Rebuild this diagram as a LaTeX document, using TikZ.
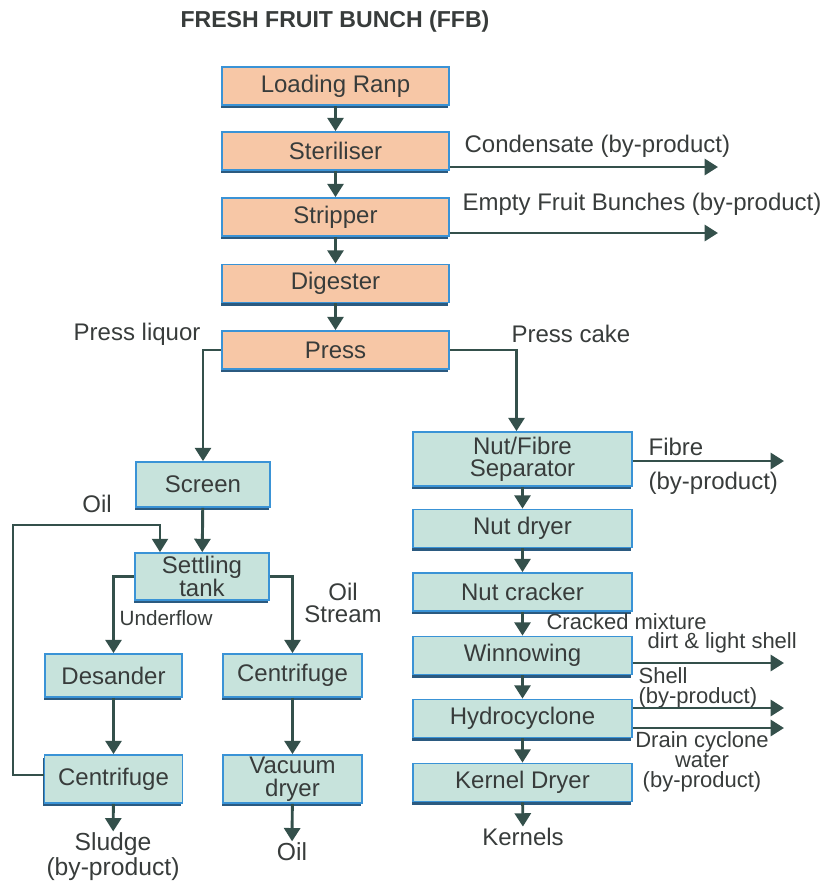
\documentclass[tikz,border=0pt]{standalone}
\usepackage{fontspec}
\setmainfont{Liberation Sans}
\usetikzlibrary{arrows.meta,shadows,calc}
\definecolor{peach}{HTML}{F7C7A6}
\definecolor{mint}{HTML}{C7E3DC}
\definecolor{edgeblue}{HTML}{3A93D6}
\definecolor{shadeblue}{HTML}{2B5A80}
\definecolor{flowgreen}{HTML}{34504B}
\definecolor{ink}{HTML}{383C3B}

\begin{document}
\begin{tikzpicture}[x=0.75pt,y=-0.75pt,
  stage/.style={draw=edgeblue, line width=1.3pt, align=center, text=ink,
    font=\fontsize{18}{15.5}\selectfont, inner sep=0pt,
    drop shadow={shadow xshift=-1pt, shadow yshift=-2.4pt, fill=shadeblue, opacity=1}},
  hot/.style={stage, fill=peach, minimum width=170.25pt, minimum height=28.5pt},
  cool/.style={stage, fill=mint},
  rightbox/.style={cool, minimum width=164.25pt, minimum height=28.5pt},
  tag/.style={text=ink, inner sep=1pt, font=\fontsize{18}{16}\selectfont},
  smalltag/.style={text=ink, inner sep=1pt, font=\fontsize{16.5}{15}\selectfont},
  flow/.style={draw=flowgreen, line width=2.2pt, -{Triangle[width=12pt,length=10pt]}},
  loopline/.style={flow, line width=1.6pt}]

\useasboundingbox (0,0) rectangle (825,883);

% heading
\node[text=ink, font=\bfseries\fontsize{17.3}{20}\selectfont] (ffb) at (335,22) {FRESH FRUIT BUNCH (FFB)};

% reception and pressing line
\node[hot] (load)  at (335.5,86)    {Loading Ranp};
\node[hot] (ster)  at (335.5,151)   {Steriliser};
\node[hot] (strip) at (335.5,217)   {Stripper};
\node[hot] (dig)   at (335.5,283.5) {Digester};
\node[hot] (press) at (335.5,350)   {Press};

% kernel recovery line
\node[rightbox, minimum height=40.5pt, font=\fontsize{18}{16.5}\selectfont] (nfs) at (522.5,459) {Nut/Fibre\\Separator};
\node[rightbox] (nd)  at (522.5,528.5) {Nut dryer};
\node[rightbox] (nc)  at (522.5,592)   {Nut cracker};
\node[rightbox] (win) at (522.5,655.5) {Winnowing};
\node[rightbox] (hyd) at (522.5,718.5) {Hydrocyclone};
\node[rightbox] (kd)  at (522.5,782.5) {Kernel Dryer};

% oil clarification line
\node[cool, minimum width=100.5pt, minimum height=33.75pt] (scr) at (203,484.5) {Screen};
\node[cool, minimum width=100.5pt, minimum height=35.25pt] (st)  at (202,576.5) {Settling\\tank};
\node[cool, minimum width=102.75pt, minimum height=32.25pt] (des) at (113.5,675.5) {Desander};
\node[cool, minimum width=104.25pt, minimum height=32.25pt] (cfm) at (292.5,675.5) {Centrifuge};
\node[cool, minimum width=103.5pt, minimum height=36pt] (cfl) at (113.5,779) {Centrifuge};
\node[cool, minimum width=104.25pt, minimum height=36pt, font=\fontsize{18}{17.5}\selectfont] (vac) at (292.5,779) {Vacuum\\dryer};

% end products
\node[tag, align=center, font=\fontsize{18.5}{18.75}\selectfont] (slu) at (113,857) {Sludge\\(by-product)};
\node[tag, font=\fontsize{18.5}{18}\selectfont] (oilout) at (292,852) {Oil};
\node[tag] (kern) at (523,837) {Kernels};

% stream labels
\node[tag, anchor=west] (lcond) at (463,146) {Condensate (by-product)};
\node[tag, anchor=west] (lefb)  at (461,204) {Empty Fruit Bunches (by-product)};
\node[tag, anchor=east] (lliq)  at (202,334) {Press liquor};
\node[tag, anchor=west] (lcake) at (510,334) {Press cake};
\node[tag, anchor=west] (lfib)  at (647,447) {Fibre};
\node[tag, anchor=west] (lfibb) at (647,483) {(by-product)};
\node[tag] (loil) at (97,504) {Oil};
\node[smalltag, anchor=west, font=\fontsize{15.5}{14}\selectfont] (lunder) at (118,618) {Underflow};
\node[tag, align=center, font=\fontsize{18}{16.5}\selectfont] (lstream) at (343,603) {Oil\\Stream};
\node[smalltag, anchor=west] (lcrack) at (545,622) {Cracked mixture};
\node[smalltag, anchor=west] (ldirt)  at (646,643) {dirt \& light shell};
\node[smalltag, anchor=west, align=left] (lshell) at (637,687.5) {Shell\\(by-product)};
\node[smalltag, align=center] (ldrain) at (702,762) {Drain cyclone\\water\\(by-product)};

% main sequence
\foreach \a/\b in {load/ster, ster/strip, strip/dig, dig/press}
  \draw[flow] (\a) -- (\b);

% press outputs
\draw[flow] (press.west) -| (scr.north);
\draw[flow] (press.east) -| ($(nfs.north)+(-6,0)$);

% kernel line
\foreach \a/\b in {nfs/nd, nd/nc, nc/win, win/hyd, hyd/kd, kd/kern}
  \draw[flow] (\a) -- (\b);

% oil line
\draw[flow] (scr) -- (st);
\draw[flow] (st.west) -| (des.north);
\draw[flow] (st.east) -| (cfm.north);
\draw[flow] (des) -- (cfl);
\draw[flow] (cfm) -- (vac);
\draw[flow] (cfl) -- (slu);
\draw[flow] (vac) -- (oilout);

% recycled oil back to the settling tank
\coordinate (loopc) at (13,525);
\coordinate (oilin) at (160,0);
\draw[loopline] ($(cfl.west)+(0,-4)$) -| (loopc) -| (st.north -| oilin);

% by-product outlets
\coordinate (condEnd)  at (718,167);
\coordinate (efbEnd)   at (718,233);
\coordinate (fibEnd)   at (784,461);
\coordinate (dirtEnd)  at (784,663);
\coordinate (shellEnd) at (784,708);
\coordinate (drainEnd) at (784,728);
\draw[flow] (ster.east |- condEnd) -- (condEnd);
\draw[flow] (strip.east |- efbEnd) -- (efbEnd);
\draw[flow] (nfs.east |- fibEnd) -- (fibEnd);
\draw[flow] (win.east |- dirtEnd) -- (dirtEnd);
\draw[flow] (hyd.east |- shellEnd) -- (shellEnd);
\draw[flow] (hyd.east |- drainEnd) -- (drainEnd);
\end{tikzpicture}
\end{document}
